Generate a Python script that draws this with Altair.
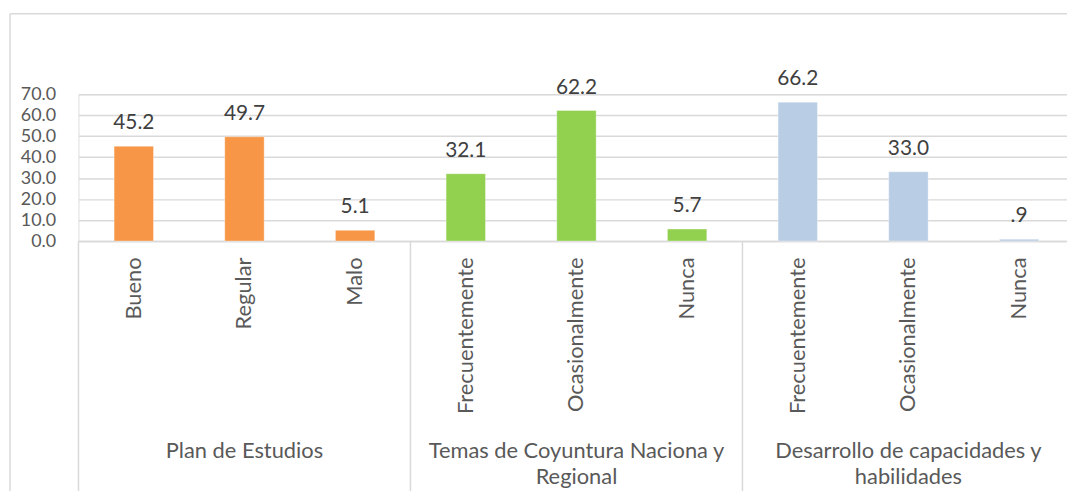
import altair as alt
import pandas as pd

groups = ["Plan de Estudios", "Plan de Estudios", "Plan de Estudios",
          "Temas de Coyuntura Naciona y\nRegional", "Temas de Coyuntura Naciona y\nRegional", "Temas de Coyuntura Naciona y\nRegional",
          "Desarrollo de capacidades y\nhabilidades", "Desarrollo de capacidades y\nhabilidades", "Desarrollo de capacidades y\nhabilidades"]
categories = ["Bueno", "Regular", "Malo",
              "Frecuentemente", "Ocasionalmente", "Nunca",
              "Frecuentemente", "Ocasionalmente", "Nunca"]
values = [45.2, 49.7, 5.1, 32.1, 62.2, 5.7, 66.2, 33.0, 0.9]
value_labels = ["45.2", "49.7", "5.1", "32.1", "62.2", "5.7", "66.2", "33.0", ".9"]
group_names = ["Plan de Estudios", "Temas de Coyuntura Naciona y\nRegional", "Desarrollo de capacidades y\nhabilidades"]
group_colors = ["#F79646", "#92D050", "#B9CDE5"]
y_ticks = [0, 10, 20, 30, 40, 50, 60, 70]

keys = [f"{i}|{c}" for i, c in enumerate(categories)]
df = pd.DataFrame({"key": keys, "cat": categories, "group": groups,
                   "value": values, "label": value_labels})

FONT = "Lato"
W, H = 996, 148
xscale = alt.Scale(domain=keys, range=[0, 1003.5], paddingInner=0, paddingOuter=0)
yscale = alt.Scale(domain=[0, 70])

xaxis = alt.Axis(title=None, labelAngle=-90, labelAlign="right", labelBaseline="middle",
                 labelPadding=16, labelFontSize=22, labelColor="#595959", labelFont=FONT,
                 domainColor="#D9D9D9", domainWidth=1.5, ticks=False, grid=False,
                 labelOverlap=False, labelExpr="split(datum.value, '|')[1]")
yaxis = alt.Axis(title=None, values=y_ticks, format=".1f", labelOverlap=False,
                 labelFontSize=18, labelColor="#595959", labelFont=FONT, labelPadding=23,
                 gridColor="#D9D9D9", gridWidth=1.5, domain=False, ticks=False)

base = alt.Chart(df)

bars = base.mark_bar(width=alt.RelativeBandSize(0.356), stroke="#FFFFFF", strokeOpacity=0.35,
                     strokeWidth=1).encode(
    x=alt.X("key:N", scale=xscale, sort=None, axis=xaxis),
    y=alt.Y("value:Q", scale=yscale, axis=yaxis),
    color=alt.Color("group:N", scale=alt.Scale(domain=group_names, range=group_colors), legend=None),
)

texts = base.mark_text(dy=-17, baseline="alphabetic", fontSize=21, color="#404040", font=FONT).encode(
    x=alt.X("key:N", scale=xscale, sort=None, axis=xaxis),
    y=alt.Y("value:Q", scale=yscale, axis=yaxis),
    text="label:N",
)

sep_df = pd.DataFrame({"key": [keys[0], keys[3], keys[6]]})
seps = alt.Chart(sep_df).mark_rule(color="#D9D9D9", strokeWidth=1.5).encode(
    x=alt.X("key:N", scale=xscale, sort=None, bandPosition=0, axis=xaxis),
    y=alt.value(H), y2=alt.value(H + 300),
)

glab_df = pd.DataFrame({"key": [keys[1], keys[4], keys[7]], "name": group_names})
glabs = alt.Chart(glab_df).mark_text(fontSize=22, color="#595959", font=FONT, baseline="middle",
                                      lineBreak="\n", lineHeight=26).encode(
    x=alt.X("key:N", scale=xscale, sort=None, axis=xaxis),
    y=alt.value(360),
    text="name:N",
)

one = pd.DataFrame({"a": [0]})
border_left = alt.Chart(one).mark_rule(color="#D9D9D9", strokeWidth=1.5).encode(
    x=alt.value(-69), y=alt.value(-81), y2=alt.value(H + 300))
border_top = alt.Chart(one).mark_rule(color="#D9D9D9", strokeWidth=1.5).encode(
    x=alt.value(-69), x2=alt.value(W + 50), y=alt.value(-81))

chart = alt.layer(bars, texts, seps, glabs, border_left, border_top).properties(
    width=W, height=H,
    autosize=alt.AutoSizeParams(type="none"),
    padding={"left": 71, "top": 85, "right": 0, "bottom": 250},
).configure_view(stroke=None).configure(background="white")

chart.save("out.html", embed_options={"renderer": "svg", "actions": False})
